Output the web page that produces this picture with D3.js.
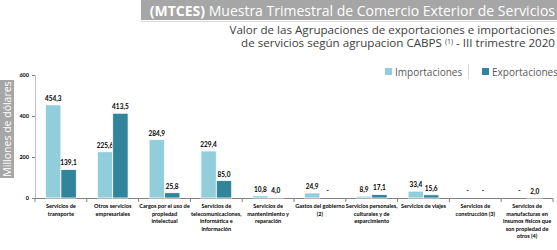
<!DOCTYPE html>
<html>
<head>
<meta charset="utf-8">
<script src="https://cdn.jsdelivr.net/npm/d3@7"></script>
<style>
  body { margin: 0; background: #fff; }
  svg { display: block; }
  .tiny { font-family: Lato, "Open Sans", sans-serif; font-weight: bold; fill: #000; }
</style>
</head>
<body>
<svg id="svg" width="557" height="250"></svg>
<script>
// categories (label lines) and series
const categories = [
  ["Servicios de", "transporte"],
  ["Otros servicios", "empresariales"],
  ["Cargos por el uso de", "propiedad", "intelectual"],
  ["Servicios de", "telecomunicaciones,", "informática e", "información"],
  ["Servicios de", "mantenimiento y", "reparación"],
  ["Gastos del gobierno", "(2)"],
  ["Servicios personales,", "culturales y de", "esparcimiento"],
  ["Servicios de viajes"],
  ["Servicios de", "construcción (3)"],
  ["Servicios de", "manufacturas en", "insumos físicos que", "son propiedad de", "otros (4)"]
];
const importaciones = [454.3, 225.6, 284.9, 229.4, 10.8, 24.9, 8.9, 33.4, null, null];
const exportaciones = [139.1, 413.5, 25.8, 85.0, 4.0, null, 17.1, 15.6, null, 2.0];
const series = ["Importaciones", "Exportaciones"];
const yTicks = [0, 200, 400, 600];

let container = d3.select("#svg");
const colors = { Importaciones: "#92cddc", Exportaciones: "#31849b" };

// header
container.append("rect").attr("x", 141).attr("y", 0).attr("width", 416).attr("height", 20).attr("fill", "#a6a6a6");
container.append("line").attr("x1", 141).attr("x2", 557).attr("y1", 21.5).attr("y2", 21.5).attr("stroke", "#d9d9d9");
let title = container.append("text")
  .attr("x", 555).attr("y", 15.5).attr("text-anchor", "end")
  .style("font-family", "Open Sans").style("font-size", "14px").attr("fill", "#fff");
title.append("tspan").style("font-weight", "bold").text("(MTCES)");
title.append("tspan").text(" Muestra Trimestral de Comercio Exterior de Servicios");

container.append("text").attr("x", 555).attr("y", 33.5).attr("text-anchor", "end")
  .style("font-family", "Open Sans").style("font-size", "11.6px").attr("fill", "#404040")
  .text("Valor de las Agrupaciones de exportaciones e importaciones");
let sub2 = container.append("text").attr("x", 555).attr("y", 47).attr("text-anchor", "end")
  .style("font-family", "Open Sans").style("font-size", "11.6px").attr("fill", "#404040");
sub2.append("tspan").text("de servicios según agrupacion CABPS ");
sub2.append("tspan").attr("dy", -3.5).style("font-size", "7px").text("(1)");
sub2.append("tspan").attr("dy", 3.5).text(" - III trimestre 2020");

// y label box
container.append("rect").attr("x", 0).attr("y", 80).attr("width", 14).attr("height", 98).attr("fill", "#a6a6a6");
container.append("text")
  .attr("transform", "translate(11,129) rotate(-90)")
  .attr("text-anchor", "middle")
  .style("font-family", "Open Sans").style("font-size", "10.5px").attr("fill", "#fff")
  .text("Millones de dólares");

// scales
let yScale = d3.scaleLinear().domain([0, 600]).range([198, 75]);
let xScale = d3.scaleBand().domain(d3.range(categories.length)).range([35, 553]);
let sub = d3.scaleBand().domain(series).range([10.5, xScale.bandwidth() - 10.5]);

// y axis
let yAxis = container.append("g")
  .attr("transform", "translate(35,0)")
  .call(d3.axisLeft(yScale).tickValues(yTicks).tickSize(3).tickPadding(3));
yAxis.select(".domain").attr("stroke", "#bfbfbf");
yAxis.selectAll(".tick line").attr("stroke", "#808080");
yAxis.selectAll(".tick text").attr("class", "tiny").style("font-size", "5.5px");

// x axis line with separators
container.append("line").attr("x1", 35).attr("x2", 553).attr("y1", 198.5).attr("y2", 198.5).attr("stroke", "#808080");
container.selectAll(".sep").data(d3.range(categories.length + 1)).enter().append("line")
  .attr("x1", (i) => 35 + i * xScale.bandwidth()).attr("x2", (i) => 35 + i * xScale.bandwidth())
  .attr("y1", 198.5).attr("y2", 202).attr("stroke", "#808080");

// bars
let rows = categories.map((c, i) => ({ i: i, Importaciones: importaciones[i], Exportaciones: exportaciones[i] }));
series.forEach((s) => {
  container.selectAll(".bar-" + s).data(rows.filter((d) => d[s] !== null)).enter().append("rect")
    .attr("x", (d) => xScale(d.i) + sub(s))
    .attr("width", sub.bandwidth())
    .attr("y", (d) => yScale(d[s]))
    .attr("height", (d) => yScale(0) - yScale(d[s]))
    .attr("fill", colors[s])
    .attr("stroke", "#fff").attr("stroke-width", 0.8);

  container.selectAll(".lbl-" + s).data(rows).enter().append("text")
    .attr("class", "tiny")
    .attr("x", (d) => xScale(d.i) + sub(s) + sub.bandwidth() / 2)
    .attr("y", (d) => (d[s] === null ? yScale(0) - 5 : yScale(d[s]) - 4))
    .attr("text-anchor", "middle")
    .style("font-size", "6.5px")
    .text((d) => (d[s] === null ? "-" : d3.format(".1f")(d[s]).replace(".", ",")));
});

// category labels
categories.forEach((lines, i) => {
  let t = container.append("text").attr("class", "tiny")
    .attr("text-anchor", "middle").style("font-size", "5.6px");
  lines.forEach((ln, j) => {
    t.append("tspan").attr("x", xScale(i) + xScale.bandwidth() / 2)
      .attr("y", 208 + j * 7.6).text(ln);
  });
});

// legend
let legendX = [385, 482];
series.forEach((s, i) => {
  container.append("rect").attr("x", legendX[i]).attr("y", 68).attr("width", 7).attr("height", 7).attr("fill", colors[s]);
  container.append("text").attr("x", legendX[i] + 10).attr("y", 75.5)
    .style("font-family", "Open Sans").style("font-size", "10px").attr("fill", "#595959").text(s);
});
container.append("line").attr("x1", 468.5).attr("x2", 468.5).attr("y1", 64).attr("y2", 79).attr("stroke", "#d9d9d9");
</script>
</body>
</html>
